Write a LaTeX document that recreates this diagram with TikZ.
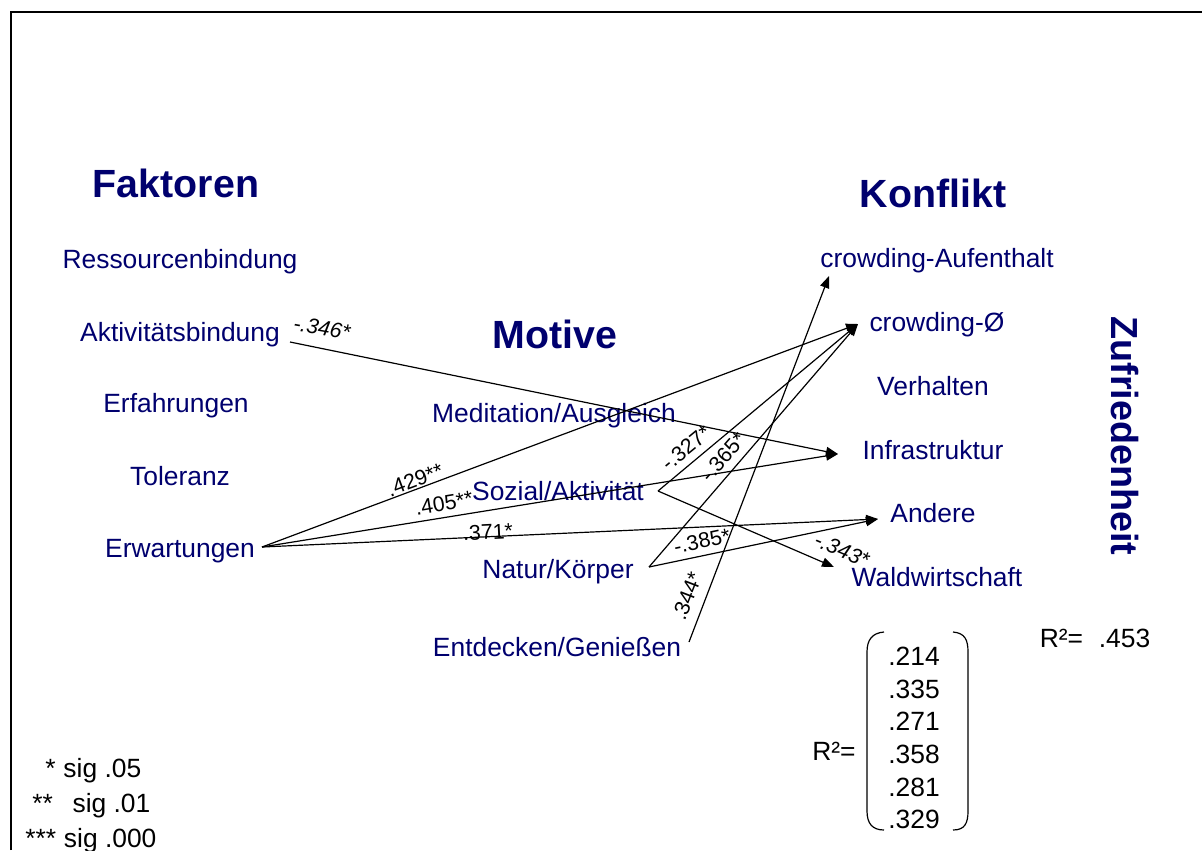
\documentclass[tikz,border=0pt]{standalone}
\usepackage{fontspec}
\setmainfont{Liberation Sans}
\usetikzlibrary{arrows.meta}
\definecolor{navy}{RGB}{0,0,110}
\begin{document}
\begin{tikzpicture}[x=0.75pt,y=-0.75pt,
  head/.style={font=\fontsize{29.5}{32}\bfseries\selectfont, text=navy, anchor=base, inner sep=0pt},
  item/.style={font=\fontsize{19.8}{22}\selectfont, text=navy, anchor=base, inner sep=0pt},
  plain/.style={font=\fontsize{19.8}{22}\selectfont, text=black, anchor=base, inner sep=0pt},
  coef/.style={font=\fontsize{16}{18}\selectfont, inner sep=0pt},
  icoef/.style={font=\fontsize{16}{18}\itshape\selectfont, inner sep=0pt},
  link/.style={draw, line width=0.9pt, -{Triangle[length=9pt,width=7pt]}},
  frameline/.style={line width=1.6pt}]
\useasboundingbox (0,0) rectangle (1202,850);

% frame
\coordinate (fa) at (11,850);
\coordinate (fb) at (11,12);
\coordinate (fc) at (1202,12);
\draw[frameline] (fa) -- (fb) -- (fc);

% column headings
\node[head] (hfak) at (176,197) {Faktoren};
\node[head] (hmot) at (555,348) {Motive};
\node[head] (hkon) at (933,207) {Konflikt};
\node[head, font=\fontsize{28.3}{30}\bfseries\selectfont, anchor=center, rotate=-90] (hzuf) at (1125,436) {Zufriedenheit};

% factors
\node[item] (res) at (180,268) {Ressourcenbindung};
\node[item] (akt) at (180,341) {Aktivitätsbindung};
\node[item] (erf) at (176,412) {Erfahrungen};
\node[item] (tol) at (180,485) {Toleranz};
\node[item] (erw) at (180,557) {Erwartungen};

% motives
\node[item] (med) at (554,422) {Meditation/Ausgleich};
\node[item] (soz) at (558,500) {Sozial/Aktivität};
\node[item] (nat) at (558,578) {Natur/Körper};
\node[item] (ent) at (557,656) {Entdecken/Genießen};

% conflicts
\node[item] (cra) at (937,267) {crowding-Aufenthalt};
\node[item] (cr0) at (937,331) {crowding-Ø};
\node[item] (ver) at (933,395) {Verhalten};
\node[item] (inf) at (933,459) {Infrastruktur};
\node[item] (and) at (933,522) {Andere};
\node[item] (wal) at (937,586) {Waldwirtschaft};

% connector end points
\coordinate (akt-o) at (290,342);
\coordinate (erw-o) at (262,547);
\coordinate (soz-o) at (658,491);
\coordinate (nat-o) at (649,567);
\coordinate (ent-o) at (689,642);
\coordinate (cra-i) at (829,276);
\coordinate (cr0-i) at (858,324);
\coordinate (inf-i) at (838,454);
\coordinate (and-i) at (878,519);
\coordinate (wal-i) at (834,567);

% paths
\draw[link] (akt-o) -- (inf-i);
\draw[link] (erw-o) -- (cr0-i);
\draw[link] (erw-o) -- (inf-i);
\draw[link] (erw-o) -- (and-i);
\draw[link] (soz-o) -- (cr0-i);
\draw[link] (soz-o) -- (wal-i);
\draw[link] (nat-o) -- (cr0-i);
\draw[link] (nat-o) -- (and-i);
\draw[link] (ent-o) -- (cra-i);

% path coefficients
\node[icoef, rotate=-10] (c1) at (322,328) {-.346*};
\node[coef, rotate=20.5] (c2) at (415,480) {.429**};
\node[coef, rotate=9.5] (c3) at (444,503) {.405**};
\node[coef, rotate=2.8] (c4) at (488,532) {.371*};
\node[coef, rotate=39.5] (c5) at (686,448) {-.327*};
\node[coef, rotate=49] (c6) at (723,457) {-.365*};
\node[coef, rotate=12] (c7) at (702,541) {-.385*};
\node[icoef, rotate=-23] (c8) at (842,550) {-.343*};
\node[coef, rotate=69] (c9) at (687,596) {.344*};

% explained variance
\node[plain] (r2a) at (1095,647) {R²=\hspace{0.6em}.453};
\node[plain] (r2b) at (834,760) {R²=};
\node[plain] (v1) at (914,665) {.214};
\node[plain] (v2) at (914,698) {.335};
\node[plain] (v3) at (914,730) {.271};
\node[plain] (v4) at (914,763) {.358};
\node[plain] (v5) at (914,796) {.281};
\node[plain] (v6) at (914,828) {.329};
\draw[line width=0.9pt] (884,632) .. controls (872,633) and (867,640) .. (867,652)
  -- (867,811) .. controls (867,823) and (872,830) .. (884,830);
\draw[line width=0.9pt] (953,632) .. controls (965,633) and (968,640) .. (968,652)
  -- (968,811) .. controls (968,823) and (965,830) .. (953,830);

% significance legend
\node[plain, anchor=base west] (s1) at (45,777) {*\hspace{0.3em}sig .05};
\node[plain, anchor=base west] (s2) at (32,812) {**\hspace{0.75em}sig .01};
\node[plain, anchor=base west] (s3) at (25,847) {***\hspace{0.3em}sig .000};
\end{tikzpicture}
\end{document}
